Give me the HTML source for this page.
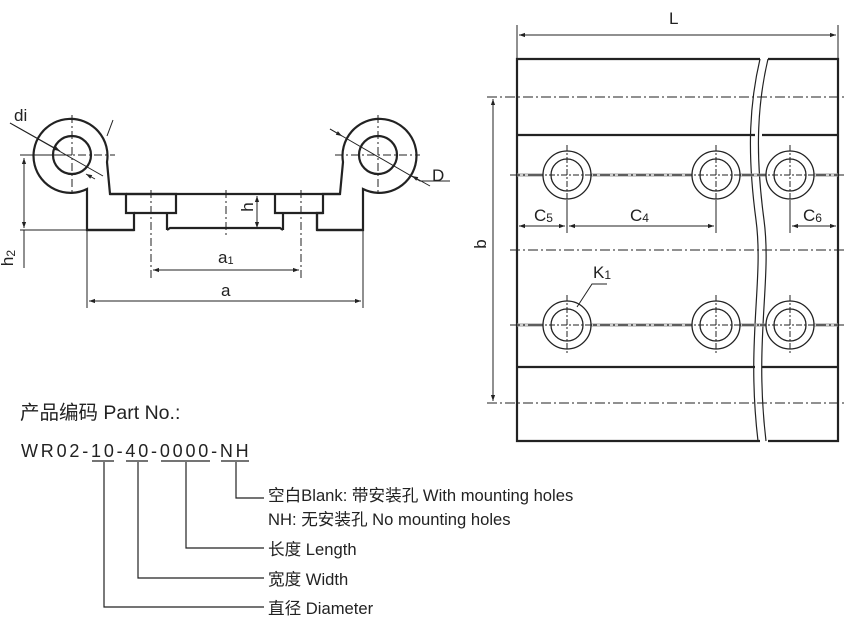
<!DOCTYPE html>
<html><head><meta charset="utf-8"><style>
body{margin:0;background:#fff}
svg{display:block}
text{font-family:"Liberation Sans","Noto Sans CJK SC",sans-serif;fill:#222}
</style></head><body>
<svg width="865" height="632" viewBox="0 0 865 632" xmlns="http://www.w3.org/2000/svg">
<defs>
<marker id="ar" viewBox="0 0 10 10" refX="10" refY="5" markerWidth="9" markerHeight="6" orient="auto-start-reverse"><path d="M0,1.5L10,5L0,8.5z" fill="#222"/></marker>
</defs>
<g stroke="#222" fill="none">
<g stroke-width="2.2">
<path d="M87,189 A37,37 0 1 1 107,162 L110,194 L126,194 L126,213 L134,213 L134,230 L87,230 Z" fill="#fff"/>
<path d="M363,189 A37,37 0 1 0 343,162 L340,194 L323,194 L323,213 L317,213 L317,230 L363,230 Z" fill="#fff"/>
<path d="M110,194 H340"/>
<path d="M126,194 H176 V213 H167 V230 M134,213 H167"/>
<path d="M275,194 V213 H283 V230 M323,213 H283 M317,213 V230"/>
<path d="M130,230 H134 M167,230 L170,228 H280 L283,230 M317,230 H363 M87,230 H131"/>
<circle cx="72" cy="155" r="19"/>
<circle cx="378" cy="155" r="19"/>
</g>
<g stroke-width="1" stroke-dasharray="8,3,2,3">
<path d="M72,115 V195 M30,155 H115 M378,115 V195 M335,155 H420 M226,190 V235 M151,190 V278 M301,190 V278"/>
</g>
<g stroke-width="1">
<path d="M10,123 L103,176"/>
<path d="M10,123 L60,151" marker-end="url(#ar)"/>
<path d="M95,179 L86,174" marker-end="url(#ar)"/>
<path d="M107,136 L113,120"/>
<path d="M330,129 L420,181 H450"/>
<path d="M330,129 L342,136" marker-end="url(#ar)"/>
<path d="M430,186 L412,176" marker-end="url(#ar)"/>
<path d="M20,155 H72 M20,230 H87"/>
<path d="M24,158 V228" marker-start="url(#ar)" marker-end="url(#ar)"/>
<path d="M24,230 V268"/>
<path d="M257,196 V228" marker-start="url(#ar)" marker-end="url(#ar)"/>
<path d="M153,270 H299" marker-start="url(#ar)" marker-end="url(#ar)"/>
<path d="M87,230 V308 M363,230 V308"/>
<path d="M89,301 H361" marker-start="url(#ar)" marker-end="url(#ar)"/>
</g>
<g stroke-width="2.2">
<path d="M760,59 H517 V441 H760 M768,59 H838 V441 H768"/>
<path d="M517,135 H755 M762,135 H838 M517,367 H755 M762,367 H838"/>
</g>
<path d="M760,59 C748,110 748,160 756,220 C764,280 746,340 758,441 M768,59 C756,110 756,160 764,220 C772,280 754,340 766,441" stroke-width="1.2"/>
<g stroke-width="1" stroke-dasharray="10,3,2,3">
<path d="M487,97 H845 M510,250 H845 M487,403 H845 M510,175 H845 M510,325 H845"/>
</g>
<path d="M517,174 H838 M517,176 H838 M517,324 H838 M517,326 H838" stroke="#999" stroke-width="1"/>
<g stroke-width="1.3" fill="#fff">
<circle cx="567" cy="175" r="24"/><circle cx="567" cy="175" r="16"/>
<circle cx="716" cy="175" r="24"/><circle cx="716" cy="175" r="16"/>
<circle cx="790" cy="175" r="24"/><circle cx="790" cy="175" r="16"/>
<circle cx="567" cy="325" r="24"/><circle cx="567" cy="325" r="16"/>
<circle cx="716" cy="325" r="24"/><circle cx="716" cy="325" r="16"/>
<circle cx="790" cy="325" r="24"/><circle cx="790" cy="325" r="16"/>
</g>
<g stroke-width="1" stroke-dasharray="6,2,2,2">
<path d="M567,145 V205 M716,145 V205 M790,145 V205 M567,295 V355 M716,295 V355 M790,295 V355 M537,175 H597 M686,175 H746 M760,175 H820 M537,325 H597 M686,325 H746 M760,325 H820"/>
</g>
<g stroke-width="1">
<path d="M517,25 V59 M838,25 V59"/>
<path d="M519,35 H836" marker-start="url(#ar)" marker-end="url(#ar)"/>
<path d="M493,99 V401" marker-start="url(#ar)" marker-end="url(#ar)"/>
<path d="M567,200 V233 M716,200 V233 M790,200 V233"/>
<path d="M519,226 H565" marker-start="url(#ar)" marker-end="url(#ar)"/>
<path d="M569,226 H714" marker-start="url(#ar)" marker-end="url(#ar)"/>
<path d="M792,226 H836" marker-start="url(#ar)" marker-end="url(#ar)"/>
<path d="M607,284 H592 L577,307"/>
</g>
<g stroke-width="1.2">
<path d="M92,461 H114 M126,461 H148 M161,461 H210 M221,461 H249"/>
<path d="M236,462 V498 H264 M186,462 V548 H264 M138,462 V578 H264 M104,462 V607 H264"/>
</g>
</g>
<g font-size="17">
<text x="14" y="121">di</text>
<text x="432" y="181">D</text>
<text x="252" y="218" transform="rotate(-90 247 212)" text-anchor="middle">h</text>
<text x="18" y="261" transform="rotate(-90 14 262)" text-anchor="middle">h<tspan font-size="12" dy="2">2</tspan></text>
<text x="218" y="263">a<tspan font-size="11" dy="1">1</tspan></text>
<text x="221" y="296">a</text>
<text x="669" y="24">L</text>
<text x="486" y="256" transform="rotate(-90 480 250)" text-anchor="middle">b</text>
<text x="534" y="221">C<tspan font-size="12" dy="1">5</tspan></text>
<text x="630" y="221">C<tspan font-size="12" dy="1">4</tspan></text>
<text x="803" y="221">C<tspan font-size="12" dy="1">6</tspan></text>
<text x="593" y="278">K<tspan font-size="12" dy="1">1</tspan></text>
</g>
<text x="20" y="419" font-size="19.5">产品编码 Part No.:</text>
<text x="21" y="457" font-size="18" letter-spacing="2.8">WR02-10-40-0000-NH</text>
<g font-size="16.6">
<text x="268" y="501">空白Blank: 带安装孔 With mounting holes</text>
<text x="268" y="525">NH: 无安装孔 No mounting holes</text>
<text x="268" y="555">长度 Length</text>
<text x="268" y="585">宽度 Width</text>
<text x="268" y="614">直径 Diameter</text>
</g>
</svg>
</body></html>
